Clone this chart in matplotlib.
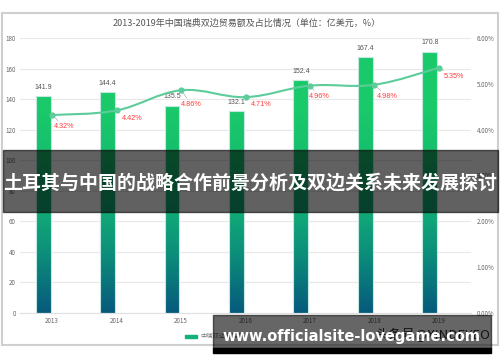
import numpy as np
import matplotlib
matplotlib.use('Agg')
from matplotlib import pyplot as plt
from matplotlib.path import Path
from matplotlib.patches import PathPatch, Rectangle
from matplotlib.colors import LinearSegmentedColormap

plt.rcParams['font.family'] = ['Noto Sans CJK SC', 'DejaVu Sans']

years = ['2013', '2014', '2015', '2016', '2017', '2018', '2019']
trade = [141.9, 144.4, 135.5, 132.1, 152.4, 167.4, 170.8]
share = [4.32, 4.42, 4.86, 4.71, 4.96, 4.98, 5.35]
# label offsets in pixels (dx, dy) for the red percentage labels
share_offsets = [(2, -12), (5, -8), (0, -14), (5, -7), (-1, -11), (3, -12), (5, -9)]

title = '2013-2019年中国瑞典双边贸易额及占比情况（单位：亿美元，%）'
banner = '土耳其与中国的战略合作前景分析及双边关系未来发展探讨'
site = 'www.officialsite-lovegame.com'

W, H = 500, 362
fig = plt.figure(figsize=(5, 3.62), dpi=100)
ax = fig.add_axes([20 / W, 1 - 313 / H, 451 / W, 275 / H])
ax2 = ax.twinx()

x = np.arange(len(years))
bar_off = -0.14
bars = ax.bar(x + bar_off, trade, width=0.23, color='none',
              edgecolor='#c4e9e2', linewidth=0.8, zorder=3)

cmap = LinearSegmentedColormap.from_list(
    'g', [(0, '#075a7d'), (0.22, '#0c8f7a'), (0.35, '#11a777'),
          (0.6, '#17c06d'), (0.75, '#1aca6a'), (1, '#1aca6a')])
grad = np.linspace(0, 1, 256).reshape(-1, 1)
for b in bars:
    x0 = b.get_x()
    im = ax.imshow(grad, cmap=cmap, origin='lower', aspect='auto',
                   extent=(x0, x0 + b.get_width(), 0, 180), zorder=2)
    im.set_clip_path(b)

for xi, v in zip(x, trade):
    ax.annotate(f'{v}', (xi + bar_off, v), xytext=(0, 4), textcoords='offset points',
                ha='center', va='bottom', fontsize=5, color='#555555',
                family=['Liberation Sans'])

ax.set_xlim(-0.5, 6.5)
ax.set_ylim(0, 180)
ax.set_yticks(range(0, 181, 20))
ax.set_xticks(x)
ax.set_xticklabels(years)
ax.tick_params(length=0, labelsize=4.5, colors='#666666', pad=3)
ax.grid(axis='y', color='#e8e8e8', linewidth=0.8)
ax.set_axisbelow(True)
for s in ax.spines.values():
    s.set_visible(False)
ax.spines['bottom'].set_visible(True)
ax.spines['bottom'].set_color('#e0e0e0')

# smooth line through share points (cubic bezier, catmull-rom style)
ax2.set_ylim(0, 6)
ax2.set_yticks(range(0, 7))
ax2.set_yticklabels([f'{i}.00%' for i in range(7)])
ax2.tick_params(length=0, labelsize=4.5, colors='#666666', pad=4)
for s in ax2.spines.values():
    s.set_visible(False)

pts = np.column_stack([x, share])
verts = [tuple(pts[0])]
codes = [Path.MOVETO]
k = 0.18
for i in range(len(pts) - 1):
    p0 = pts[max(i - 1, 0)]
    p1 = pts[i]
    p2 = pts[i + 1]
    p3 = pts[min(i + 2, len(pts) - 1)]
    c1 = p1 + (p2 - p0) * k
    c2 = p2 - (p3 - p1) * k
    verts += [tuple(c1), tuple(c2), tuple(p2)]
    codes += [Path.CURVE4] * 3
ax2.add_patch(PathPatch(Path(verts, codes), facecolor='none',
                        edgecolor='#5dcc9b', linewidth=1.5, zorder=4))
ax2.plot(x, share, 'o', color='#5dcc9b', markersize=3.5, zorder=5)

for xi, v, (dx, dy) in zip(x, share, share_offsets):
    ax2.annotate(f'{v:.2f}%', (xi, v), xytext=(dx, dy), textcoords='offset pixels',
                 ha='left', va='center', fontsize=5.2, color='#ff3b3b',
                 family=['Liberation Sans'],
                 arrowprops=dict(arrowstyle='-', color='#b0b0b0', lw=0.5,
                                 shrinkA=0, shrinkB=1))

fig.text(247 / W, 1 - 23 / H, title, ha='center', va='center',
         fontsize=6.5, color='#555555')

# legend at bottom
fig.patches.append(Rectangle((185 / W, 1 - 338 / H), 12 / W, 3 / H,
                             transform=fig.transFigure, color='#12b277'))
fig.text(200 / W, 1 - 336.5 / H, '中瑞双边贸易额', fontsize=4.5, color='#777777',
         va='center')

# outer frame
fig.patches.append(Rectangle((1.5 / W, 1 - 345 / H), 496 / W, 332 / H,
                             transform=fig.transFigure, fill=False,
                             edgecolor='#cfcfcf', linewidth=1.5))

# banner overlay
fig.patches.append(Rectangle((3 / W, 1 - 212 / H), 495 / W, 62 / H,
                             transform=fig.transFigure, color='black',
                             alpha=0.62, zorder=10))
t = fig.text(250 / W, 1 - 183 / H, banner, ha='center', va='center',
             fontsize=14, color='white', fontweight='bold', zorder=11)

# bottom watermark
fig.text(490 / W, 1 - 335 / H, '头条号@XINDEYEO', fontsize=9.5, color='#333333',
         ha='right', va='center', zorder=9)
fig.patches.append(Rectangle((213 / W, 1 - 348 / H), 278 / W, 33 / H,
                             transform=fig.transFigure, color='black',
                             alpha=0.6, zorder=10))
fig.patches.append(Rectangle((213 / W, 1 - 353 / H), 278 / W, 5 / H,
                             transform=fig.transFigure, color='black', zorder=10))
u = fig.text(351.5 / W, 1 - 337 / H, site, ha='center', va='center',
             fontsize=11, color='white', fontweight='bold', zorder=11,
             family=['DejaVu Sans'])

# fit text widths
r = fig.canvas.get_renderer()
for txt, target in [(t, 494), (u, 257)]:
    w = txt.get_window_extent(r).width
    txt.set_fontsize(txt.get_fontsize() * target / w)

fig.savefig('out.png', dpi=100)
